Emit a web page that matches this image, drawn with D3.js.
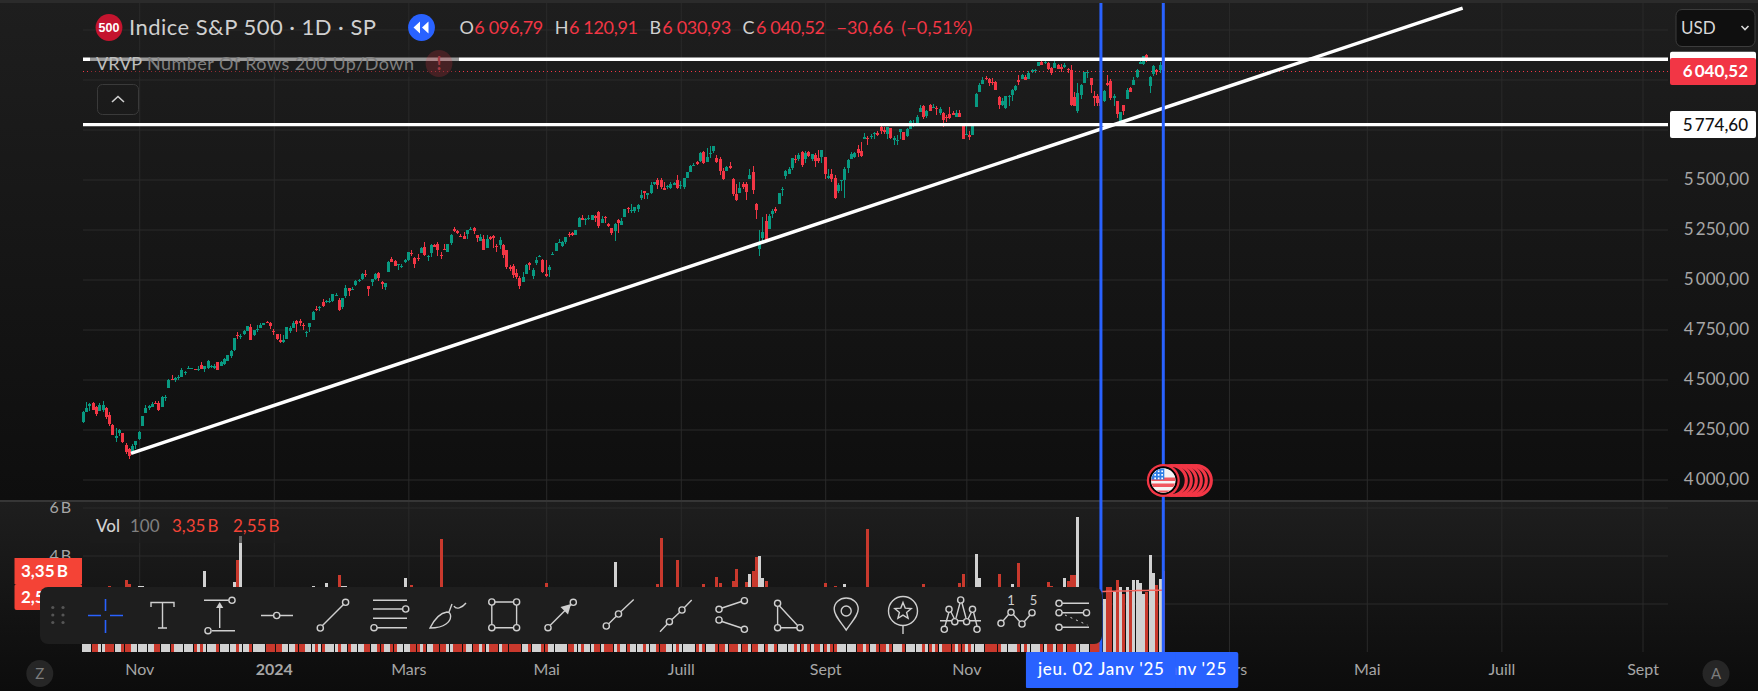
<!DOCTYPE html>
<html><head><meta charset="utf-8">
<script src="https://cdn.jsdelivr.net/npm/d3@7"></script>
<style>
html,body{margin:0;padding:0;background:#111;overflow:hidden}
svg{display:block}
text{font-family:Lato,"Open Sans","Noto Sans",sans-serif}
</style></head><body>
<svg id="c" width="1758" height="691"></svg>
<script>
// Daily candles, Oct 2023 - Jan 2025 (one line per month)
const opens=[
4289,4339,4367,4381,4361,4342,4346,4357,4321,4273,4210,4235,4233,4175,4153,4140,4171,
4202,4269,4334,4358,4365,4384,4384,4365,4406,4458,4505,4497,4512,4512,4538,4553,4555,4554,4546,4571,4554,
4559,4564,4557,4586,4569,4576,4593,4618,4647,4721,4715,4726,4744,4764,4725,4754,4759,4773,4787,4782,
4745,4726,4698,4690,4704,4742,4760,4793,4792,4773,4739,4761,4797,4854,4856,4889,4887,4889,4893,4925,4899,
4862,4916,4958,4951,4973,4996,5004,5026,4968,4986,5004,5032,4989,4963,5039,5101,5093,5074,5067,5086,
5098,5132,5110,5109,5132,5164,5111,5134,5174,5176,5123,5154,5140,5181,5253,5243,5220,5219,5226,5248,
5258,5221,5194,5205,5159,5212,5217,5168,5172,5172,5150,5065,5068,5032,5006,4988,5029,5084,5020,5085,5114,5099,
5029,5050,5122,5142,5187,5168,5189,5226,5234,5221,5263,5310,5303,5305,5299,5319,5340,5281,5315,5279,5259,5244,
5297,5275,5314,5357,5343,5341,5353,5409,5441,5424,5431,5476,5499,5500,5459,5461,5460,5473,5499,
5472,5461,5507,5537,5572,5588,5591,5636,5590,5630,5644,5610,5602,5544,5545,5566,5505,5429,5433,5477,5480,5505,
5537,5377,5151,5206,5293,5253,5326,5354,5376,5450,5519,5530,5558,5603,5604,5637,5603,5639,5602,5624,5608,5613,
5611,5506,5530,5507,5443,5491,5496,5558,5604,5615,5655,5641,5702,5710,5712,5727,5733,5762,5748,5727,
5758,5698,5698,5737,5737,5719,5751,5778,5775,5836,5866,5816,5875,5860,5857,5833,5835,5814,5826,5833,5815,5834,5775,
5723,5725,5722,5864,5940,5976,6008,6003,5986,5989,5913,5874,5857,5914,5923,5948,6000,6001,6014,6004,
6040,6042,6069,6090,6082,6083,6058,6060,6074,6063,6063,6053,6048,5913,5842,5925,5984,6032,6006,5920,5920,
5903,5892,5983,5993,5910,5891,5782,5874,5905,5958,5973,6014,6078,6076,6121,5969,6026,6050,6050,6097];
const highs=[
4341,4386,4385,4386,4367,4383,4394,4364,4339,4276,4256,4255,4233,4183,4157,4177,4195,
4245,4320,4373,4372,4386,4391,4393,4418,4421,4502,4522,4512,4521,4557,4543,4569,4560,4555,4568,4588,4570,
4599,4574,4578,4590,4591,4610,4623,4647,4709,4739,4726,4749,4769,4778,4749,4773,4785,4785,4793,4788,
4754,4729,4727,4722,4765,4766,4791,4799,4803,4783,4745,4785,4843,4866,4868,4903,4899,4907,4929,4932,4906,
4907,4975,4958,4965,4999,5001,5031,5048,4970,5003,5032,5039,4994,4983,5094,5111,5097,5080,5078,5105,
5140,5149,5114,5128,5165,5189,5125,5179,5179,5189,5137,5176,5179,5226,5261,5246,5229,5236,5250,5264,
5264,5221,5229,5222,5222,5219,5225,5178,5211,5176,5150,5075,5077,5052,5019,5039,5077,5089,5057,5115,5124,5103,
5096,5073,5140,5181,5201,5191,5215,5239,5238,5250,5311,5325,5307,5325,5324,5323,5342,5316,5316,5282,5260,5281,
5302,5310,5354,5362,5376,5365,5376,5448,5442,5432,5488,5490,5506,5506,5490,5473,5489,5490,5524,
5491,5510,5540,5571,5582,5591,5636,5642,5656,5667,5669,5622,5615,5557,5568,5586,5509,5480,5488,5487,5487,5552,
5567,5383,5250,5312,5330,5327,5351,5361,5435,5463,5546,5561,5608,5621,5633,5643,5642,5642,5628,5632,5647,5650,
5614,5552,5551,5522,5485,5497,5561,5601,5637,5637,5671,5690,5733,5716,5726,5736,5742,5767,5765,5763,
5758,5720,5723,5753,5738,5758,5797,5796,5823,5871,5871,5847,5879,5879,5867,5863,5836,5822,5862,5843,5848,5850,5776,
5772,5742,5784,5933,5983,6012,6018,6008,6009,5993,5916,5909,5919,5921,5953,5972,6021,6026,6021,6044,
6053,6053,6087,6100,6100,6088,6065,6099,6079,6079,6085,6057,6071,5936,5982,5978,6040,6049,6007,5941,5930,
5935,5949,6022,6001,5928,5891,5838,5872,5960,5961,6014,6053,6100,6119,6129,6018,6074,6053,6087,6121];
const lows=[
4284,4339,4345,4346,4316,4342,4339,4303,4269,4224,4189,4220,4182,4127,4103,4140,4153,
4198,4269,4334,4348,4365,4379,4345,4363,4394,4458,4501,4487,4500,4511,4525,4553,4552,4546,4541,4551,4537,
4554,4558,4551,4547,4566,4575,4592,4609,4643,4704,4705,4725,4744,4698,4718,4737,4759,4773,4781,4751,
4722,4700,4683,4683,4703,4731,4756,4740,4770,4750,4715,4740,4797,4845,4845,4865,4882,4881,4887,4917,4845,
4853,4907,4918,4946,4970,4988,4996,5015,4920,4970,5000,4995,4954,4946,5039,5088,5068,5049,5059,5084,
5094,5119,5057,5093,5132,5117,5092,5114,5165,5118,5105,5146,5138,5171,5240,5229,5216,5204,5204,5246,
5229,5189,5194,5146,5158,5197,5160,5138,5155,5107,5053,5043,5008,5001,4954,4988,5028,5047,5002,5073,5111,5035,
5014,5011,5122,5142,5187,5165,5180,5211,5217,5221,5263,5296,5272,5299,5298,5286,5257,5281,5281,5263,5222,5192,
5235,5275,5314,5335,5331,5331,5336,5396,5403,5403,5428,5471,5455,5452,5448,5452,5452,5471,5452,
5451,5453,5507,5537,5567,5571,5589,5576,5590,5607,5632,5585,5523,5498,5541,5551,5420,5391,5433,5452,5398,5505,
5427,5303,5120,5193,5195,5253,5306,5331,5376,5417,5503,5526,5550,5585,5594,5561,5585,5611,5591,5561,5584,5582,
5502,5504,5488,5403,5434,5441,5406,5535,5604,5607,5615,5615,5702,5674,5702,5703,5717,5729,5727,5703,
5703,5675,5675,5702,5696,5714,5751,5764,5775,5836,5804,5809,5841,5858,5824,5822,5763,5790,5805,5823,5815,5811,5702,
5723,5696,5722,5864,5940,5976,5996,5969,5971,5946,5854,5866,5854,5866,5892,5944,5973,6001,5997,6004,
6035,6035,6069,6072,6078,6048,6025,6060,6051,6038,6059,6035,5867,5866,5832,5903,5984,6007,5932,5869,5870,
5835,5888,5970,5897,5870,5809,5774,5823,5905,5938,5973,6007,6076,6074,6089,5933,6017,6024,6035,6031];
const closes=[
4336,4358,4377,4350,4328,4374,4373,4315,4278,4224,4217,4248,4187,4137,4117,4167,4194,
4238,4318,4358,4366,4378,4383,4347,4415,4412,4496,4503,4508,4514,4547,4538,4557,4559,4550,4555,4551,4568,
4595,4570,4567,4549,4586,4604,4622,4644,4707,4720,4719,4741,4768,4698,4747,4755,4775,4782,4783,4770,
4743,4705,4689,4697,4764,4757,4783,4780,4784,4766,4739,4781,4840,4850,4865,4869,4894,4891,4928,4925,4846,
4906,4959,4943,4954,4995,4998,5027,5022,4953,5001,5030,5006,4976,4982,5087,5089,5070,5078,5070,5096,
5137,5131,5079,5105,5157,5124,5118,5175,5165,5150,5117,5149,5179,5225,5242,5234,5218,5204,5248,5254,
5244,5206,5211,5147,5204,5202,5210,5161,5199,5123,5062,5051,5022,5011,4967,5011,5071,5072,5048,5100,5116,5036,
5018,5064,5128,5181,5188,5188,5214,5223,5221,5247,5308,5297,5303,5308,5321,5307,5268,5305,5306,5267,5235,5278,
5283,5291,5354,5353,5347,5361,5375,5421,5434,5432,5473,5487,5473,5465,5448,5469,5478,5483,5460,
5475,5509,5537,5567,5573,5577,5634,5585,5615,5631,5667,5588,5545,5505,5564,5556,5427,5399,5459,5464,5436,5522,
5447,5347,5186,5240,5200,5319,5344,5344,5434,5455,5543,5554,5608,5597,5621,5571,5635,5617,5626,5592,5592,5648,
5529,5520,5503,5408,5471,5496,5554,5596,5626,5633,5635,5618,5714,5703,5719,5733,5722,5745,5738,5762,
5709,5710,5700,5751,5696,5751,5792,5780,5815,5860,5815,5842,5841,5865,5854,5851,5797,5810,5808,5824,5833,5814,5705,
5729,5713,5783,5929,5973,5996,6001,5984,5985,5949,5871,5894,5917,5917,5949,5969,5987,6022,5999,6032,
6047,6050,6086,6075,6090,6053,6035,6084,6051,6051,6074,6051,5872,5867,5931,5974,6040,6038,5971,5907,5882,
5869,5942,5975,5909,5918,5827,5836,5843,5950,5937,5997,6049,6086,6119,6101,6012,6068,6039,6071,6041];
// Volume in billions (values below the toolbar's top are estimates)
const volumes=[
2.3,2.2,2.3,2.4,2.3,2.2,2.4,2.5,2.75,2.5,2.4,2.4,2.5,2.96,2.8,2.3,2.4,
2.75,2.72,2.5,2.3,2.4,2.2,2.3,2.4,2.3,2.6,2.4,2.4,2.3,2.3,2.2,2.0,1.2,2.1,2.2,2.4,3.37,
2.4,2.3,2.3,2.2,2.3,2.2,2.3,2.6,2.9,3.83,4.83,2.5,2.5,2.6,2.4,2.2,2.0,1.9,1.8,1.9,
2.4,2.3,2.3,2.2,2.2,2.1,2.1,2.2,2.1,2.2,2.2,2.2,2.75,2.4,2.2,2.3,2.85,2.3,2.2,2.3,3.2,
2.75,2.72,2.4,2.3,2.3,2.4,2.4,2.3,2.5,2.3,2.5,2.6,2.3,2.2,2.5,2.4,2.3,2.4,2.5,3.07,
2.6,2.78,2.5,2.4,2.4,2.6,2.4,2.4,2.4,2.5,4.7,2.2,2.2,2.2,2.3,2.2,2.0,2.0,2.1,2.2,
2.2,2.2,2.3,2.4,2.2,2.1,2.1,2.2,2.1,2.4,2.5,2.4,2.3,2.4,2.5,2.2,2.2,2.3,2.1,2.1,2.1,2.6,
2.85,2.5,2.4,2.3,2.2,2.3,2.2,2.2,2.2,2.2,2.3,2.3,2.2,2.2,2.1,2.4,2.3,2.0,2.2,2.2,2.3,3.75,
2.3,2.2,2.3,2.2,2.2,2.3,2.3,2.5,2.4,2.3,2.5,2.6,2.8,4.75,2.3,2.2,2.1,2.2,3.83,
2.2,2.3,2.0,2.2,2.2,2.2,2.3,2.8,2.4,2.6,2.5,3.1,2.85,2.6,2.4,2.3,2.95,3.45,2.5,2.3,2.9,3.25,
3.36,3.92,3.96,3.07,2.92,2.6,2.4,2.2,2.3,2.3,2.4,2.3,2.2,2.1,2.2,2.2,2.3,2.1,2.1,2.3,2.3,2.5,
2.85,2.5,2.4,2.75,2.5,2.4,2.8,2.4,2.4,2.4,2.3,2.5,2.6,5.12,2.3,2.3,2.1,2.4,2.3,2.6,
2.6,2.3,2.3,2.3,2.2,2.3,2.3,2.2,2.3,2.2,2.8,2.3,2.4,2.3,2.4,2.3,2.5,2.2,2.3,2.3,2.4,2.85,3.25,
2.5,2.4,2.5,4.08,3.05,2.6,2.5,2.6,2.5,2.6,3.25,2.5,2.4,2.4,2.8,2.6,3.67,2.5,2.4,1.9,
2.5,2.5,2.6,2.6,2.5,2.9,2.72,2.6,2.5,2.4,3.05,2.92,3.2,3.18,5.62,2.3,1.7,1.8,2.0,2.1,2.2,
2.3,2.17,2.7,2.67,2.5,3.0,2.7,2.4,2.7,2.5,2.96,2.96,2.86,2.4,2.47,4.04,3.29,2.79,3.04,3.35];
const volumeMaBars=[310,311,312,313,314,315,316,317,318,319,320,321,322,323,324,325,326,327,328,329];
const volumeMa=[2.50,2.50,2.51,2.51,2.51,2.52,2.52,2.52,2.52,2.53,2.53,2.54,2.54,2.54,2.54,2.55,2.55,2.55,2.55,2.55];

const priceTicks=[4000,4250,4500,4750,5000,5250,5500,5750,6000,6250];
const priceTickLabels=[4000,4250,4500,4750,5000,5250,5500];
const volumeTicks=[2,4,6];
const volumeTickLabels=[4,6];
const timeBars=[17,58,99,141,182,226,269,310,349,391,432,475];
const timeLabels=["Nov","2024","Mars","Mai","Juill","Sept","Nov","","Mars","Mai","Juill","Sept"];
const levels=[6101,5774.6];
const trendBars=[14.5,420.2];
const trendPrices=[4131,6357];
const markerBars=[310,329];
const markerLabels=["jeu. 02 Janv '25","jeu. 30 Janv '25"];
const lastClose=6040.52;
const legendOHLC=[["O","6 096,79"],["H","6 120,91"],["B","6 030,93"],["C","6 040,52"]];

const svg=d3.select("#c"), W=1758, H=691;
const x=d3.scaleLinear().domain([17,329]).range([139.2,1163.3]);
const y=d3.scaleLinear().domain([4000,6000]).range([479.5,79.5]);
const yv=d3.scaleLinear().domain([0,6]).range([651.5,507.5]);
const fr=v=>d3.format(",.2f")(v).replace(",","\u2009").replace(".",",");

const defs=svg.append("defs");
function grad(id,a,b){const g=defs.append("linearGradient").attr("id",id).attr("x1",0).attr("x2",0).attr("y1",0).attr("y2",1);
 g.append("stop").attr("offset",0).attr("stop-color",a);g.append("stop").attr("offset",1).attr("stop-color",b);}
grad("g1","#1e1e1e","#0e0e0e");grad("g2","#1e1e1e","#0c0c0c");

svg.append("rect").attr("width",W).attr("height",501).attr("fill","url(#g1)");
svg.append("rect").attr("y",501).attr("width",W).attr("height",190).attr("fill","url(#g2)");
svg.append("rect").attr("width",W).attr("height",3).attr("fill","#2b2b2b");

// grid via axes
const gridCol="#2a2a2a";
const gx=svg.append("g").attr("transform","translate(0,652)")
 .call(d3.axisBottom(x).tickValues(timeBars).tickSize(-649).tickFormat(""));
const gy=svg.append("g").attr("transform","translate(83,0)")
 .call(d3.axisLeft(y).tickValues(priceTicks).tickSize(-1585).tickFormat(""));
const gyv=svg.append("g").attr("transform","translate(83,0)")
 .call(d3.axisLeft(yv).tickValues(volumeTicks).tickSize(-1585).tickFormat(""));
[gx,gy,gyv].forEach(g=>{g.select(".domain").remove();g.selectAll("line").attr("stroke",gridCol).attr("stroke-width",1);});

const bars=d3.range(closes.length);
// volume bars
const volRed="#c9392d",volGrey="#d1d1d1";
svg.append("g").attr("shape-rendering","crispEdges").selectAll("rect").data(bars).join("rect")
 .attr("x",i=>Math.floor(x(i))-1).attr("width",3)
 .attr("y",i=>yv(volumes[i])).attr("height",i=>yv(0)-yv(volumes[i]))
 .attr("fill",i=>closes[i]<opens[i]?volRed:volGrey);
svg.append("path").datum(volumeMaBars).attr("fill","none").attr("stroke","#f4665f").attr("stroke-width",1.6)
 .attr("d",d3.line().x(i=>x(i)).y((i,k)=>yv(volumeMa[k])));

// candles
const up="#089981",down="#f23645";
const cg=svg.append("g").attr("shape-rendering","crispEdges");
cg.selectAll(".w").data(bars).join("rect").attr("class","w")
 .attr("x",i=>Math.floor(x(i))).attr("width",1)
 .attr("y",i=>y(highs[i])).attr("height",i=>Math.max(1,y(lows[i])-y(highs[i])))
 .attr("fill",i=>closes[i]<opens[i]?down:up);
cg.selectAll(".b").data(bars).join("rect").attr("class","b")
 .attr("x",i=>Math.floor(x(i))-1).attr("width",3)
 .attr("y",i=>y(Math.max(opens[i],closes[i])))
 .attr("height",i=>Math.max(1,Math.abs(y(opens[i])-y(closes[i]))))
 .attr("fill",i=>closes[i]<opens[i]?down:up);

// last price line
const lastY=Math.floor(y(lastClose))+.5;
svg.append("line").attr("x1",83).attr("x2",1668).attr("y1",lastY).attr("y2",lastY)
 .attr("stroke",down).attr("stroke-dasharray","1 3").attr("shape-rendering","crispEdges");
// horizontal levels
svg.selectAll(".lvl").data(levels).join("line").attr("class","lvl").attr("x1",83).attr("x2",1668)
 .attr("y1",d=>y(d)).attr("y2",d=>y(d)).attr("stroke","#fff").attr("stroke-width",3.4);
// trend line
svg.append("line").attr("x1",x(trendBars[0])).attr("y1",y(trendPrices[0])).attr("x2",x(trendBars[1])).attr("y2",y(trendPrices[1]))
 .attr("stroke","#fff").attr("stroke-width",3.5);
// separator
svg.append("rect").attr("y",500).attr("width",W).attr("height",2).attr("fill","#363636");
// vertical markers
svg.selectAll(".mk").data(markerBars).join("line").attr("class","mk")
 .attr("x1",d=>x(d)).attr("x2",d=>x(d)).attr("y1",3).attr("y2",652).attr("stroke","#2962ff").attr("stroke-width",3);

// events cluster
const ev=svg.append("g").attr("transform",`translate(${x(329)},480.5)`);
[33,28,23,18,13,8].forEach(dx=>{
 ev.append("circle").attr("cx",dx).attr("r",15).attr("fill","#111").attr("stroke","#f23645").attr("stroke-width",3.2);
});
ev.append("circle").attr("r",16.5).attr("fill","#f23645");
ev.append("circle").attr("r",13.2).attr("fill","#f0f0f0").attr("stroke","#000").attr("stroke-width",2);
const cp=defs.append("clipPath").attr("id","fl");cp.append("circle").attr("cx",x(329)).attr("cy",480.5).attr("r",12);
const fl=svg.append("g").attr("clip-path","url(#fl)").append("g").attr("transform",`translate(${x(329)},480.5)`);
fl.append("rect").attr("x",-13).attr("y",-13).attr("width",26).attr("height",26).attr("fill","#f4f4f4");
[-3,3,10].forEach(s=>fl.append("rect").attr("x",-13).attr("y",s).attr("width",26).attr("height",3.5).attr("fill","#f0575f"));
fl.append("rect").attr("x",-13).attr("y",-13).attr("width",14).attr("height",12).attr("fill","#2f7fe6");
[-10,-6.5,-3].forEach(yy=>[-9,-5.5,-2].forEach(xx=>fl.append("rect").attr("x",xx).attr("y",yy).attr("width",1.7).attr("height",1.7).attr("fill","#fff")));

// legends
const fg="#d0d0d0", red="#f23645", vred="#f44336";
svg.append("rect").attr("x",90).attr("y",50).attr("width",369).attr("height",27).attr("rx",3).attr("fill","#1c1c1c").attr("opacity",.45);
svg.append("circle").attr("cx",109).attr("cy",27.5).attr("r",13.4).attr("fill","#c4142e");
svg.append("text").attr("x",109).attr("y",32).attr("text-anchor","middle").attr("fill","#fff").attr("font-size",12.5).attr("font-weight",700).style("font-family","Liberation Sans").text("500");
svg.append("text").attr("x",129).attr("y",35).attr("fill",fg).attr("font-size",22).attr("textLength",247).text("Indice S&P 500 · 1D · SP");
svg.append("circle").attr("cx",421.5).attr("cy",27.5).attr("r",13.4).attr("fill","#2962ff");
svg.append("path").attr("d","M420 21.5v12l-6.5-6zM428.5 21.5v12l-6.5-6z").attr("fill","#fff");
const legendLetterX=[459.5,554.8,649.5,742.4];
const legendValueX=[474.3,569,662.3,756];
legendOHLC.forEach((d,i)=>{
 svg.append("text").attr("x",legendLetterX[i]).attr("y",34).attr("font-size",18).attr("fill",fg).text(d[0]);
 svg.append("text").attr("x",legendValueX[i]).attr("y",34).attr("font-size",18).attr("fill",red).attr("textLength",69).text(d[1]);
});
svg.append("text").attr("x",836.4).attr("y",34).attr("font-size",18).attr("fill",red).attr("textLength",57).text("\u221230,66");
svg.append("text").attr("x",901.3).attr("y",34).attr("font-size",18).attr("fill",red).attr("textLength",71).text("(\u22120,51%)");
svg.append("text").attr("x",96).attr("y",70).attr("font-size",18).attr("fill","#bdbdbd").text("VRVP");
svg.append("text").attr("x",147).attr("y",70).attr("font-size",18).attr("fill","#808080").attr("textLength",267).text("Number Of Rows 200 Up/Down");
svg.append("circle").attr("cx",439).attr("cy",63.5).attr("r",13.4).attr("fill","#f23645").attr("opacity",.2);
svg.append("text").attr("x",439).attr("y",70).attr("text-anchor","middle").attr("font-size",18).attr("font-weight",700).attr("fill","#a23a42").text("!");
svg.append("rect").attr("x",97.5).attr("y",84.5).attr("width",41).attr("height",30).attr("rx",5).attr("fill","none").attr("stroke","#3a3a3a");
svg.append("path").attr("d","M112 102l6-5.5l6 5.5").attr("fill","none").attr("stroke","#d0d0d0").attr("stroke-width",1.6);

// vol legend
svg.append("rect").attr("x",90).attr("y",517).attr("width",200).attr("height",26).attr("fill","#1c1c1c").attr("opacity",.6);
svg.append("text").attr("x",96).attr("y",532).attr("font-size",17).attr("fill",fg).attr("font-weight",500).text("Vol");
svg.append("text").attr("x",130).attr("y",532).attr("font-size",17).attr("fill","#808080").text("100");
svg.append("text").attr("x",172).attr("y",532).attr("font-size",17).attr("fill",vred).text("3,35\u2009B");
svg.append("text").attr("x",233).attr("y",532).attr("font-size",17).attr("fill",vred).text("2,55\u2009B");

// price axis labels
const axR=svg.append("g").attr("transform","translate(1749,0)")
 .call(d3.axisLeft(y).tickValues(priceTickLabels).tickSize(0).tickPadding(0).tickFormat(fr));
axR.select(".domain").remove();
axR.selectAll("text").attr("font-size",17).attr("fill","#a6a6a6").style("font-family","Lato");

// volume axis labels
const axV=svg.append("g").attr("transform","translate(71,0)")
 .call(d3.axisLeft(yv).tickValues(volumeTickLabels).tickSize(0).tickPadding(0).tickFormat(d=>d+"\u2009B"));
axV.select(".domain").remove();
axV.selectAll("text").attr("font-size",16).attr("fill","#a6a6a6").style("font-family","Lato");

// time axis labels
const axT=svg.append("g").attr("transform","translate(0,652)")
 .call(d3.axisBottom(x).tickValues(timeBars).tickSize(0).tickPadding(12).tickFormat((d,i)=>timeLabels[i]));
axT.select(".domain").remove();
axT.selectAll("text").attr("font-size",16).attr("fill","#a6a6a6").style("font-family","Lato")
 .attr("font-weight",d=>d===58?700:400);

// time marker labels (later marker first, earlier on top)
[1,0].forEach(k=>{
 const cx=x(markerBars[k]);
 svg.append("rect").attr("x",cx-75).attr("y",652).attr("width",150).attr("height",36).attr("rx",k?2:1).attr("fill","#2962ff");
 svg.append("text").attr("x",cx).attr("y",675).attr("text-anchor","middle").attr("font-size",17).attr("font-weight",500).attr("fill","#fff").attr("textLength",126).text(markerLabels[k]);
});

// price labels at right
const lab=(v,fill,tc,b,dy=0,showText=true)=>{
 const yy=y(v)+dy;
 svg.append("rect").attr("x",1670).attr("y",yy-13.5).attr("width",86).attr("height",27).attr("rx",2).attr("fill",fill);
 if(showText) svg.append("text").attr("x",1748).attr("y",yy+6).attr("text-anchor","end").attr("font-size",17).attr("font-weight",b).attr("fill",tc).text(fr(v));
};
lab(levels[0],"#fff","#111",500,6,false);
lab(lastClose,"#f23645","#fff",700);
lab(levels[1],"#fff","#111",500);

// USD
svg.append("rect").attr("x",1676).attr("y",9.5).attr("width",79).attr("height",37).attr("rx",6).attr("fill","#0f0f0f").attr("stroke","#3c3c3c");
svg.append("text").attr("x",1681).attr("y",34).attr("font-size",17).attr("fill","#d8d8d8").text("USD");
svg.append("path").attr("d","M1741.5 26l3.5 3.5l3.5-3.5").attr("fill","none").attr("stroke","#d8d8d8").attr("stroke-width",1.6);

// vol value labels
svg.append("rect").attr("x",14.5).attr("y",558).attr("width",67.5).attr("height",26).attr("fill",vred);
svg.append("rect").attr("x",14.5).attr("y",584).attr("width",67.5).attr("height",26).attr("rx",2).attr("fill",vred);
svg.append("text").attr("x",21).attr("y",577).attr("font-size",17).attr("font-weight",700).attr("fill","#fff").text("3,35\u2009B");
svg.append("text").attr("x",21).attr("y",603).attr("font-size",17).attr("font-weight",700).attr("fill","#fff").text("2,55\u2009B");

// Z / A
[[39.8,"Z"],[1716,"A"]].forEach(d=>{
 svg.append("circle").attr("cx",d[0]).attr("cy",673.5).attr("r",13.5).attr("fill","#262626");
 svg.append("text").attr("x",d[0]).attr("y",679).attr("text-anchor","middle").attr("font-size",15).attr("fill","#7c7c7c").text(d[1]);
});

// Toolbar
const tb=svg.append("g");
tb.append("rect").attr("x",40).attr("y",587).attr("width",1062).attr("height",57).attr("rx",8).attr("fill","#1e1e1e");
[[52.8,607.5],[63,607.5],[52.8,615],[63,615],[52.8,622.5],[63,622.5]].forEach(p=>tb.append("circle").attr("cx",p[0]).attr("cy",p[1]).attr("r",1.6).attr("fill","#555"));
const ic="#cfcfcf";
const P=(d,c=ic,w=1.4)=>tb.append("path").attr("d",d).attr("fill","none").attr("stroke",c).attr("stroke-width",w);
const O=(cx,cy,r=3.1)=>tb.append("circle").attr("cx",cx).attr("cy",cy).attr("r",r).attr("fill","#1e1e1e").attr("stroke",ic).attr("stroke-width",1.4);
const blue="#2962ff";
P("M88 615.5h13M110 615.5h13M105.5 599v12M105.5 620v13",blue,1.6);
P("M151 607v-4.5h23v4.5M162.5 602.5v25.5M158 628h9");
P("M204 600.3h25M212 630.7h23M219.7 628v-22"); tb.append("path").attr("d","M219.7 602l-3.6 6h7.2z").attr("fill",ic); O(232,600.3);O(208,630.7);
P("M261 615.5h12.5M280 615.5h13");O(276.7,615.5);
P("M322.5 625.5l21-21");O(320.3,628);O(345.6,602.3);
P("M373 600.3h34M373 609h29.5M373 618.3h34M377 627.7h30");O(405.7,609);O(374,627.7);
P("M430 628c4-8 10-15 17-16c5 0 5 8-1 12c-4 3-10 4-16 4zM449 612l3-8M454 606c2 4 8 2 12-3");
P("M491.8 605v20M516.6 605v20M495 602h18.5M495 627.7h18.5");O(491.8,602);O(516.6,602);O(491.8,627.7);O(516.6,627.7);
P("M550 625.5l21-21");tb.append("path").attr("d","M571 604l-3 10.5l-7.5-7.5z").attr("fill",ic);O(548,627.7);O(573.3,602.3);
P("M608.5 624l7.5-7.5M621 611.5l12.7-12");O(606.3,626);O(618.5,614);
P("M660 631.7l7.5-8M672 619.5l8-7.5M684 608l7.7-8");O(669.4,621.7);O(682,610);
P("M722 608l19.5-6.5M722 621.5l19.5 6.5");O(719,609.3);O(744.4,600.7);O(719,620);O(744.4,629.3);
P("M777.6 606v19M779.5 606l18.5 20M781 627.7h16");O(777.6,603.3);O(777.6,627.7);O(800,627.7);
P("M846.2 630c-7-10-12-15-12-21a12 11 0 0 1 24 0c0 6-5 11-12 21z");tb.append("circle").attr("cx",846.2).attr("cy",611).attr("r",5).attr("fill","none").attr("stroke",ic).attr("stroke-width",1.4);
tb.append("circle").attr("cx",903).attr("cy",611).attr("r",14.5).attr("fill","none").attr("stroke",ic).attr("stroke-width",1.4);
P("M903 626v8");P("M903 602.5l2.2 5.6l6 .4l-4.6 3.9l1.5 5.9l-5.1-3.2l-5.1 3.2l1.5-5.9l-4.6-3.9l6-.4z");
P("M940 620.7h41M945 626l4-14M951 612l3.5 7M956 618l4-15M962 603l4 15M968 619l3.5-7M973.5 612l3.5 14");
[[944.3,629.3],[949,609.3],[954.8,621.7],[960.7,600],[966.6,621.7],[972.5,609.3],[977,629.3]].forEach(p=>O(p[0],p[1]));
P("M1003 621l6-7M1013 614l7 8M1024 622l6-7");O(1001,623.3);O(1011,612.3);O(1022,624);O(1032,612.7);
tb.append("text").attr("x",1011).attr("y",605).attr("text-anchor","middle").attr("font-size",13).attr("fill",ic).text("1");
tb.append("text").attr("x",1033.5).attr("y",605).attr("text-anchor","middle").attr("font-size",13).attr("fill",ic).text("5");
P("M1062 603.3h27M1062 612.7h21.5M1062 627.3h27");P("M1065 615l22.4 10",ic,1).attr("stroke-dasharray","2 4");
O(1059,603.3);O(1059,612.7);O(1086.5,612.7);O(1059,627.3);
</script>
</body></html>
